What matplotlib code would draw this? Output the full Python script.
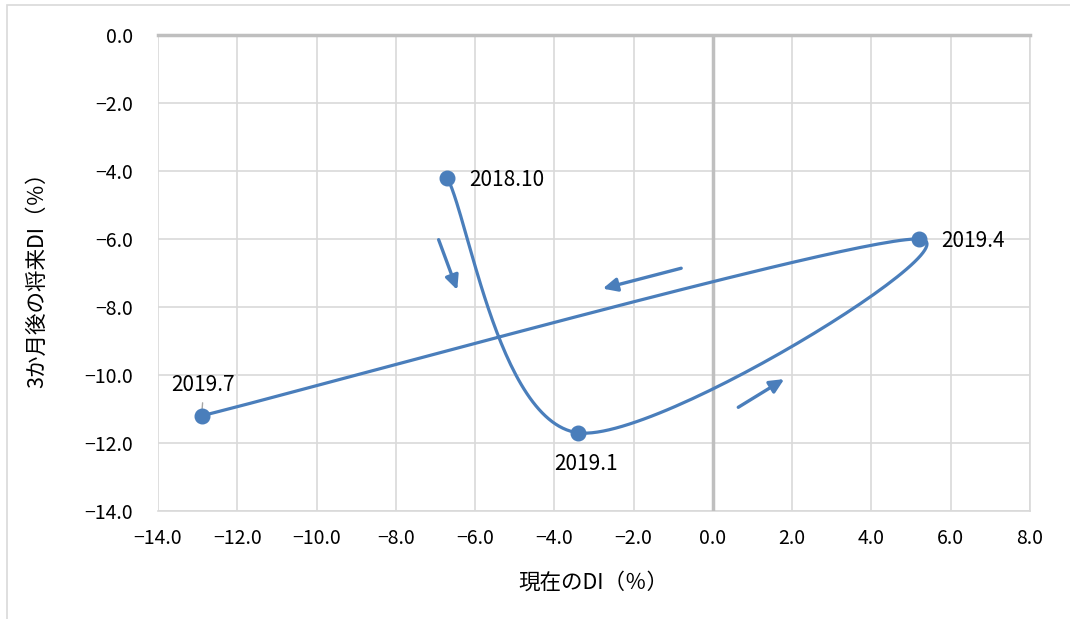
import numpy as np
import matplotlib
matplotlib.use("Agg")
import matplotlib.pyplot as plt
from matplotlib.patches import Rectangle

plt.rcParams['font.family'] = ['Noto Sans CJK JP', 'DejaVu Sans']

# ---- data ----
labels = ['2018.10', '2019.1', '2019.4', '2019.7']
current_di = [-6.7, -3.4, 5.2, -12.9]
future_di = [-4.2, -11.7, -6.0, -11.2]
x_ticks = [-14.0, -12.0, -10.0, -8.0, -6.0, -4.0, -2.0, 0.0, 2.0, 4.0, 6.0, 8.0]
y_ticks = [0.0, -2.0, -4.0, -6.0, -8.0, -10.0, -12.0, -14.0]
xlabel = '現在のDI（％）'
ylabel = '3か月後の将来DI（％）'

BLUE = '#4A7EBB'
W, H = 1070, 619

fig = plt.figure(figsize=(W / 100, H / 100), dpi=100)
ax = fig.add_axes([158 / W, 1 - 511 / H, (1030 - 158) / W, (511 - 35) / H])

# outer chart border (top & left visible)
fig.patches.append(Rectangle((7 / W, -0.1), 1.2, 1 - 5 / H + 0.1, transform=fig.transFigure,
                             fill=False, edgecolor='#d9d9d9', linewidth=1.2, zorder=0))


def smooth(xs, ys, n=60):
    P = np.column_stack([xs, ys]).astype(float)
    out = []
    m = len(P)
    for i in range(m - 1):
        p0 = P[i - 1] if i > 0 else P[i]
        p1 = P[i]
        p2 = P[i + 1]
        p3 = P[i + 2] if i + 2 < m else P[i + 1]
        c1 = p1 + (p2 - p0) / 6.0
        c2 = p2 - (p3 - p1) / 6.0
        t = np.linspace(0, 1, n)[:, None]
        seg = ((1 - t) ** 3) * p1 + 3 * ((1 - t) ** 2) * t * c1 + 3 * (1 - t) * t ** 2 * c2 + t ** 3 * p2
        out.append(seg if i == 0 else seg[1:])
    return np.vstack(out)


curve = smooth(current_di, future_di)
ax.plot(curve[:, 0], curve[:, 1], color=BLUE, lw=2.3, solid_capstyle='round', zorder=3)
ax.plot(current_di, future_di, 'o', color=BLUE, ms=10.5, zorder=4)

ax.set_xlim(x_ticks[0], x_ticks[-1])
ax.set_ylim(min(y_ticks), max(y_ticks))
ax.set_xticks(x_ticks)
ax.set_yticks(y_ticks)
fmt = lambda v: f'{v:.1f}'.replace('-', '\u2212')
ax.set_xticklabels([fmt(v) for v in x_ticks])
ax.set_yticklabels([fmt(v) for v in y_ticks])
ax.tick_params(length=0, labelsize=14, colors='#000000')
ax.tick_params(axis='x', pad=12)
ax.tick_params(axis='y', pad=18)

ax.grid(True, color='#d9d9d9', lw=1.2, zorder=0)
ax.set_axisbelow(True)
for s in ax.spines.values():
    s.set_visible(False)
ax.plot([x_ticks[0], x_ticks[-1]], [min(y_ticks)] * 2, color='#d9d9d9', lw=1.2, zorder=1, clip_on=False)
ax.plot([x_ticks[-1]] * 2, [min(y_ticks), max(y_ticks)], color='#d9d9d9', lw=1.2, zorder=1, clip_on=False)
ax.axvline(0, color='#bfbfbf', lw=2.5, zorder=1)
ax.axhline(0, color='#bfbfbf', lw=2.5, zorder=1, clip_on=False)

ax.set_xlabel(xlabel, fontsize=15.5)
ax.set_ylabel(ylabel, fontsize=15.5)
ax.xaxis.label.set_va('center')
ax.yaxis.label.set_va('center')
ax.xaxis.set_label_coords((593 - 158) / 872, (511 - 583) / 476)
ax.yaxis.set_label_coords((37 - 158) / 872, (511 - 275) / 476)

# data labels
lab_kw = dict(textcoords='offset pixels', va='center', fontsize=15)
ax.annotate(labels[0], (current_di[0], future_di[0]), xytext=(22, -2), ha='left', **lab_kw)
ax.annotate(labels[1], (current_di[1], future_di[1]), xytext=(8, -31), ha='center', **lab_kw)
ax.annotate(labels[2], (current_di[2], future_di[2]), xytext=(22, -2), ha='left', **lab_kw)
ax.annotate(labels[3], (current_di[3], future_di[3]), xytext=(1, 31), ha='center', **lab_kw)
# leader line for 2019.7
ax.annotate('', (current_di[3], future_di[3]), xytext=(1, 13), textcoords='offset pixels',
            arrowprops=dict(arrowstyle='-', color='#a6a6a6', lw=1, shrinkA=0, shrinkB=4))

# direction arrows
arrows = [((-6.92, -6.02), (-6.45, -7.50)),
          ((-0.80, -6.86), (-2.78, -7.46)),
          ((0.64, -10.95), (1.80, -10.12))]
for (x0, y0), (x1, y1) in arrows:
    ax.annotate('', xy=(x1, y1), xytext=(x0, y0),
                arrowprops=dict(arrowstyle='-|>,head_length=0.85,head_width=0.4', color=BLUE,
                                lw=2.4, shrinkA=0, shrinkB=0), zorder=3)

fig.savefig('out.png', dpi=100)
